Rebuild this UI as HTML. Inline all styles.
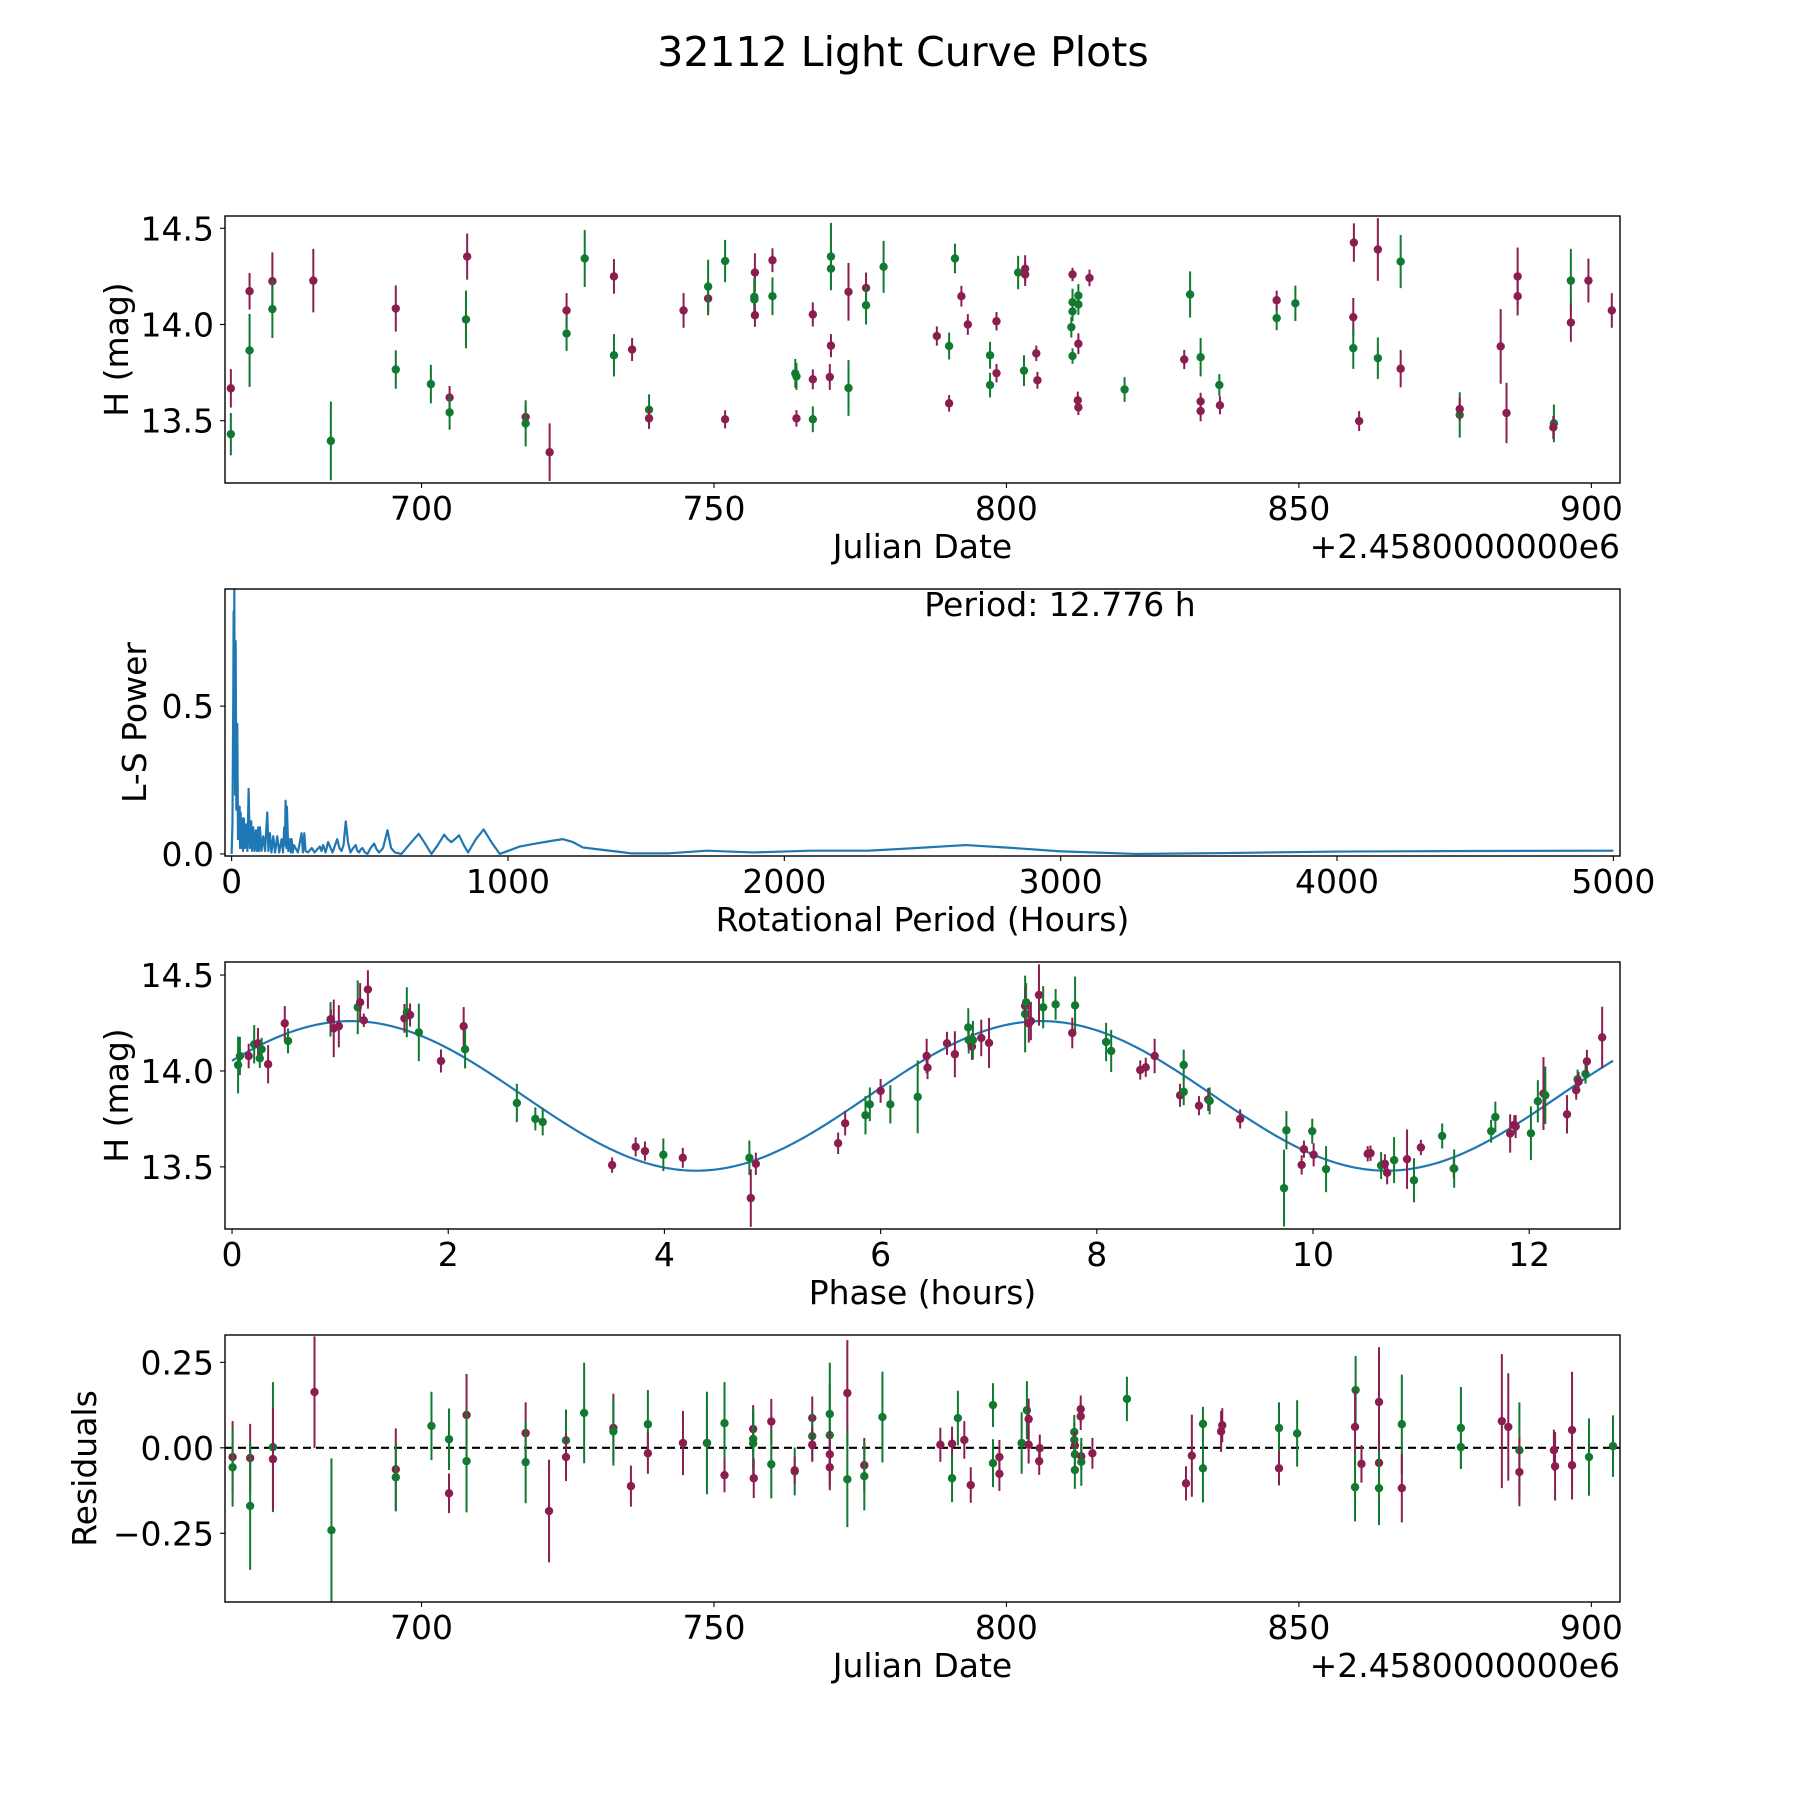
<!DOCTYPE html>
<html><head><meta charset="utf-8"><title>32112 Light Curve Plots</title>
<style>html,body{margin:0;padding:0;background:#fff;}svg{display:block;}text{font-family:"DejaVu Sans","Liberation Sans",sans-serif;fill:#000;}</style>
</head><body>
<svg id="fig" width="1800" height="1800" viewBox="0 0 1800 1800" xmlns="http://www.w3.org/2000/svg">
<rect x="0" y="0" width="1800" height="1800" fill="#fff"/>
<text x="903" y="66" font-size="41" text-anchor="middle">32112 Light Curve Plots</text>
</svg>
<script>
// ---------- Light curve data (panel 1) ----------
const lcJd = [667.4,667.4,670.6,670.6,674.5,674.5,681.5,684.5,695.6,695.6,701.6,704.8,704.8,707.8,707.6,717.8,717.8,721.9,724.8,724.8,727.9,732.9,732.9,736.0,738.9,738.9,744.8,749.0,749.0,751.9,751.9,757.0,756.9,756.9,757.0,760.0,760.0,763.9,764.1,764.1,766.9,766.9,766.9,770.0,770.0,770.0,769.8,773.0,773.0,776.0,776.0,779.0,788.1,790.2,790.2,791.2,792.3,793.4,797.2,797.2,798.3,798.3,802.0,803.2,803.2,803.0,805.1,805.3,811.3,811.1,811.3,811.3,811.3,812.3,812.3,812.3,812.2,812.3,814.2,820.2,830.4,831.4,833.2,833.2,833.2,836.4,836.5,846.2,846.2,849.4,859.4,859.3,859.3,860.3,863.5,863.5,867.4,867.4,877.5,877.5,884.5,885.5,887.4,887.4,893.6,893.5,896.5,896.5,899.5,903.5];
const lcMag = [13.668,13.43,14.173,13.865,14.225,14.08,14.228,13.395,14.083,13.766,13.69,13.62,13.543,14.353,14.026,13.519,13.486,13.336,14.073,13.953,14.343,14.25,13.84,13.87,13.557,13.512,14.073,14.135,14.197,14.33,13.507,14.27,14.144,14.13,14.048,14.334,14.147,13.746,13.73,13.512,14.052,13.715,13.507,14.353,14.29,13.89,13.727,14.17,13.67,14.19,14.1,14.30,13.94,13.888,13.59,14.343,14.147,14.0,13.84,13.685,14.017,13.747,14.27,14.29,14.26,13.76,13.85,13.71,14.26,13.986,13.836,14.068,14.116,14.15,14.104,13.9,13.606,13.569,14.242,13.662,13.818,14.156,13.83,13.6,13.55,13.685,13.58,14.033,14.126,14.11,14.426,14.038,13.877,13.498,14.39,13.825,14.327,13.77,13.53,13.56,13.886,13.54,14.25,14.147,13.486,13.465,14.228,14.01,14.228,14.073];
const lcErr = [.10,.11,.095,.19,.15,.15,.165,.205,.12,.10,.10,.06,.09,.12,.15,.06,.12,.15,.09,.09,.148,.09,.11,.06,.08,.055,.09,.087,.14,.11,.047,.1,.1,.1,.06,.062,.098,.075,.07,.043,.063,.052,.067,.175,.1,.06,.067,.15,.145,.08,.1,.135,.05,.07,.043,.077,.054,.054,.07,.064,.048,.048,.087,.07,.06,.08,.04,.044,.035,.054,.04,.05,.07,.06,.054,.054,.045,.04,.043,.064,.05,.12,.1,.045,.053,.057,.047,.063,.05,.092,.1,.1,.108,.052,.163,.108,.138,.097,.118,.06,.194,.157,.15,.1,.098,.06,.165,.1,.114,.09];
const lcBand = "PGPGPGPGPGGPGPGPGPPGGPGPGPPPGGPPGGPPGGGPPPGGGPPPGPGGPGPGPPGGPPGPPGPPPGGGGGGPPPPGPGGPPGPGPGPPGPPGGPGPPPPPGPGPPP".split("");
// ---------- Periodogram ----------
const lsPeriod = [0,3,6,7.2,8.5,9.6,11,12.5,14.5,17,20.5,23,26,28.9,30.5,32.5,35,38.6,41,44.6,48,53,57,61.5,66,71,74,78.3,83,88,92,96.4,99,102.4,108,114.5,121,129,133,138.6,144,150.6,157,165,172,180.8,186,190.4,193,195.2,198,200,205,211,214,217,221,225,240,253,258,263,267.5,276,290,300,319,325,331,340,349,365,382,390,397.6,405,413,421,430,440,449,455,461.5,467,473.5,482,491.6,503,515.7,525,533.8,548,564,577,590.5,614.5,646,677,700,723,746,769,782,795,808,823,840,855.5,884,912,940,970,1000,1042,1100,1163,1199,1235,1271,1331,1404,1444,1582,1720,1887,2095,2303,2480,2656,2830,2995,3272,3600,4000,4500,5000];
const lsPower = [0,0.1,0.54,0.82,0.3,0.9,0.5,0.2,0.72,0.15,0.44,0.05,0.1,0.16,0.02,0.14,0.02,0.12,0.01,0.12,0.02,0.1,0.01,0.22,0.02,0.11,0.01,0.09,0.01,0.08,0.01,0.09,0.01,0.09,0.01,0.06,0.01,0.14,0.01,0.07,0.005,0.06,0.005,0.06,0.005,0.05,0.005,0.09,0.03,0.18,0.02,0.16,0.01,0.05,0.005,0.05,0.005,0.03,0.005,0.07,0.005,0.07,0.01,0.005,0.02,0.005,0.025,0.01,0.03,0.005,0.04,0.005,0.05,0.02,0.01,0.03,0.11,0.04,0.005,0.02,0.03,0.01,0.005,0.015,0.02,0.005,0.0,0.02,0.035,0.015,0.005,0.02,0.08,0.02,0.005,0.0,0.035,0.068,0.035,0.0,0.03,0.065,0.05,0.04,0.05,0.063,0.03,0.005,0.05,0.083,0.04,0.0,0.01,0.025,0.035,0.045,0.05,0.04,0.022,0.015,0.007,0.002,0.002,0.011,0.005,0.011,0.011,0.02,0.03,0.02,0.009,0.0,0.003,0.008,0.01,0.011];
const bestPeriodLabel = "Period: 12.776 h";
// ---------- Phased data (panel 3) ----------
const phHours = [0.056,0.073,0.154,0.205,0.24,0.257,0.274,0.334,0.488,0.518,0.911,0.915,0.941,0.988,1.163,1.185,1.219,1.257,1.595,1.617,1.647,1.728,1.933,2.143,2.156,2.635,2.806,2.874,3.516,3.734,3.82,3.99,4.17,4.786,4.799,4.846,5.607,5.672,5.86,5.90,6.0,6.09,6.343,6.426,6.434,6.614,6.687,6.811,6.815,6.845,6.854,6.931,7.003,7.337,7.337,7.346,7.371,7.39,7.465,7.504,7.619,7.799,7.773,8.086,8.133,8.402,8.453,8.535,8.77,8.804,8.804,8.945,9.031,9.044,9.326,9.732,9.754,9.895,9.916,9.993,10.006,10.121,10.506,10.532,10.63,10.665,10.686,10.75,10.87,10.934,10.998,11.195,11.302,11.306,11.648,11.687,11.824,11.862,11.875,12.016,12.08,12.132,12.149,12.35,12.435,12.448,12.457,12.521,12.534,12.675];
const phMag = [14.031,14.078,14.078,14.139,14.144,14.066,14.113,14.035,14.248,14.156,14.269,14.269,14.222,14.233,14.332,14.358,14.264,14.425,14.274,14.306,14.292,14.201,14.052,14.233,14.113,13.833,13.75,13.734,13.509,13.604,13.582,13.563,13.547,13.547,13.337,13.516,13.623,13.727,13.769,13.826,13.896,13.826,13.865,14.078,14.017,14.144,14.087,14.227,14.161,14.127,14.161,14.172,14.146,14.297,14.339,14.358,14.248,14.26,14.396,14.332,14.347,14.342,14.198,14.151,14.104,14.005,14.019,14.078,13.873,14.031,13.891,13.819,13.851,13.844,13.75,13.389,13.691,13.51,13.592,13.686,13.563,13.488,13.568,13.571,13.507,13.516,13.469,13.535,13.54,13.43,13.601,13.661,13.491,13.491,13.686,13.76,13.674,13.719,13.71,13.675,13.842,13.882,13.873,13.774,13.9,13.957,13.944,13.984,14.05,14.175];
const phErr = [.148,.1,.064,.1,.08,.05,.06,.1,.09,.065,.09,.05,.15,.11,.14,.1,.035,.1,.075,.13,.06,.15,.06,.1,.1,.1,.06,.07,.04,.05,.05,.085,.052,.09,.15,.058,.056,.063,.1,.088,.062,.1,.19,.09,.06,.06,.12,.1,.07,.07,.1,.095,.13,.2,.1,.1,.1,.1,.16,.11,.08,.15,.08,.1,.11,.05,.05,.09,.06,.08,.07,.05,.06,.07,.05,.2,.1,.05,.045,.065,.06,.12,.04,.04,.07,.05,.06,.12,.155,.115,.04,.065,.05,.1,.06,.08,.1,.05,.06,.14,.11,.19,.15,.1,.05,.05,.05,.05,.06,.16];
const phBand = ("GGPGPGGPPGGPPPGPPPPGPGPPGGGGPPPGPGPPPPGGPGG" + "PPPPGGPGPPGPGPPPGGGPGGPPPPGG" + "PPGPGGPPGPGPPGPPGPGPGPGGGPPPGGPGPPGPGPP").split("");
const fitOffset = 13.87, fitAmplitude = 0.39, fitPeakPhase = 1.1, rotPeriod = 12.776;
// ---------- Residuals (panel 4) ----------
const resJd = [667.7,667.7,670.7,670.7,674.6,674.6,681.7,684.6,695.6,695.6,701.7,704.7,704.7,707.7,707.7,717.8,717.8,721.8,724.7,724.7,727.8,732.8,732.8,735.8,738.7,738.7,744.7,748.8,748.8,751.8,751.8,756.7,756.7,756.7,756.8,759.8,759.8,763.8,763.8,766.8,766.8,766.8,769.8,769.8,769.8,769.8,772.8,772.8,775.7,775.7,778.8,788.7,790.7,790.7,791.7,792.8,793.9,797.7,797.7,798.8,798.8,802.6,803.5,803.8,803.8,805.7,805.6,811.6,811.6,811.7,811.7,811.7,812.7,812.7,812.8,812.8,814.7,820.6,830.7,831.7,833.6,833.6,836.7,836.9,846.6,846.6,849.7,859.7,859.6,859.6,860.7,863.7,863.7,863.7,867.6,867.6,877.7,877.7,884.7,885.8,887.7,887.7,893.6,893.8,896.7,896.7,899.6,903.7];
const resVal = [-0.027,-0.057,-0.030,-0.17,0.002,-0.033,0.163,-0.241,-0.063,-0.086,0.064,0.025,-0.133,0.096,-0.039,0.043,-0.042,-0.185,0.022,-0.027,0.102,0.058,0.048,-0.112,0.069,-0.016,0.014,0.014,0.014,0.072,-0.08,0.055,0.026,0.013,-0.089,0.077,-0.048,-0.069,-0.066,0.087,0.034,0.009,0.099,0.037,-0.019,-0.057,0.16,-0.092,-0.051,-0.083,0.09,0.009,0.012,-0.089,0.087,0.023,-0.109,0.125,-0.045,-0.027,-0.076,0.014,0.11,0.084,0.009,-0.001,-0.039,0.046,0.023,0.007,-0.019,-0.065,0.113,0.092,-0.025,-0.041,-0.016,0.143,-0.104,-0.023,0.07,-0.06,0.048,0.066,0.058,-0.06,0.042,0.169,0.061,-0.115,-0.047,0.134,-0.044,-0.118,0.069,-0.118,0.058,0.002,0.078,0.061,-0.007,-0.071,-0.007,-0.054,0.052,-0.051,-0.027,0.005];
const resErr = [.105,.115,.1,.187,.19,.15,.163,.21,.12,.1,.1,.09,.058,.12,.15,.09,.12,.15,.09,.07,.147,.1,.1,.06,.1,.06,.094,.1,.15,.12,.05,.07,.09,.09,.058,.066,.1,.07,.04,.063,.07,.05,.15,.15,.07,.067,.155,.14,.08,.1,.133,.05,.05,.07,.08,.055,.052,.064,.07,.05,.05,.09,.085,.06,.055,.04,.04,.05,.05,.04,.05,.055,.04,.04,.04,.07,.045,.065,.05,.12,.05,.1,.06,.05,.075,.05,.097,.1,.11,.1,.055,.16,.1,.108,.145,.1,.12,.06,.196,.157,.14,.1,.06,.1,.17,.1,.113,.09];
const resBand = "PGPGGPPGPGGGPPGPGPGPGPGPGPPPGGPPGGPPGGPPGPGGPPPGPGGPPGGPPGGPPGGPPPPGGPGGPPPGPGPPGGPPGPGGPGPPPGGPGGPPGPPPPPGGPPP".split("");

// ---------- drawing ----------
const NS = "http://www.w3.org/2000/svg";
const svg = document.getElementById("fig");
const COL = {P:"#8b1d4f", G:"#117a30"};
const L = 225, R = 1620, FS = 33;
function mk(tag, attrs, parent){ const e=document.createElementNS(NS,tag); for(const k in attrs) e.setAttribute(k,attrs[k]); (parent||svg).appendChild(e); return e; }
function scale(d0,d1,r0,r1){ return v => r0 + (v-d0)/(d1-d0)*(r1-r0); }
function fmt(v,dec){ const s=Math.abs(v).toFixed(dec); return (v<-1e-9?"\u2212":"")+s; }

function makeAxes(name, top, bot, xd, yd, xt, xdec, yt, ydec, xlabel, ylabel, ylabX){
  const g = mk("g",{});
  
  
  const sx = scale(xd[0],xd[1],L,R), sy = scale(yd[0],yd[1],bot,top);
  const clipId = name+"-clip";
  const cp = mk("clipPath",{id:clipId},g); mk("rect",{x:L,y:top,width:R-L,height:bot-top},cp);
  const plot = mk("g",{"clip-path":"url(#"+clipId+")"},g);
  
  
  xt.forEach(v=>{ const x=sx(v);
    const t=mk("line",{x1:x,x2:x,y1:bot,y2:bot+5,stroke:"#000","stroke-width":1.1},g);
    
    
    const tx=mk("text",{x:x,y:bot+37,"font-size":FS,"text-anchor":"middle"},g); tx.textContent=fmt(v,xdec);
    
    
  });
  yt.forEach(v=>{ const y=sy(v);
    const t=mk("line",{x1:L-5,x2:L,y1:y,y2:y,stroke:"#000","stroke-width":1.1},g);
    
    
    const tx=mk("text",{x:L-11,y:y+12,"font-size":FS,"text-anchor":"end"},g); tx.textContent=fmt(v,ydec);
    
    
  });
  const fr=mk("rect",{x:L,y:top,width:R-L,height:bot-top,fill:"none",stroke:"#000","stroke-width":1.4},g);
  
  
  const xl=mk("text",{x:(L+R)/2,y:bot+75,"font-size":FS,"text-anchor":"middle"},g); xl.textContent=xlabel;
  
  
  const cy=(top+bot)/2;
  const yl=mk("text",{x:ylabX,y:cy,"font-size":FS,"text-anchor":"middle",transform:"rotate(-90 "+ylabX+" "+cy+")"},g); yl.textContent=ylabel;
  
  
  return {g,plot,sx,sy,top,bot};
}
function offsetText(ax){
  const t=mk("text",{x:R,y:ax.bot+75,"font-size":FS,"text-anchor":"end"},ax.g); t.textContent="+2.4580000000e6";
  
  
}
function errPoints(ax, xs, ys, es, bands, label){
  for(let i=0;i<xs.length;i++){
    const x=ax.sx(xs[i]), c=COL[bands[i]]||COL.P;
    const ln=mk("line",{x1:x,x2:x,y1:ax.sy(ys[i]-es[i]),y2:ax.sy(ys[i]+es[i]),stroke:c,"stroke-width":2},ax.plot);
    
    
    const ci=mk("ellipse",{cx:x,cy:ax.sy(ys[i]),rx:4.2,ry:4.2,fill:c},ax.plot);
    
    
  }
}

// Panel 1
const a1 = makeAxes("light-curve-panel",216,483,[666.4,904.9],[13.176,14.564],[700,750,800,850,900],0,[13.5,14.0,14.5],1,"Julian Date","H (mag)",128);
offsetText(a1);
errPoints(a1, lcJd, lcMag, lcErr, lcBand, "light-curve");

// Panel 2
const a2 = makeAxes("periodogram-panel",589,856,[-24,5024],[-0.007,0.896],[0,1000,2000,3000,4000,5000],0,[0.0,0.5],1,"Rotational Period (Hours)","L-S Power",146);
let d=""; lsPeriod.forEach((p,i)=>{ d+=(i?"L":"M")+a2.sx(p).toFixed(2)+" "+a2.sy(lsPower[i]).toFixed(2); });
const pl=mk("path",{d:d,fill:"none",stroke:"#1f77b4","stroke-width":2.2,"stroke-linejoin":"round"},a2.plot);


const pt=mk("text",{x:1060,y:616,"font-size":FS,"text-anchor":"middle"},a2.g); pt.textContent=bestPeriodLabel;



// Panel 3
const a3 = makeAxes("phase-panel",962,1229,[-0.065,12.84],[13.176,14.568],[0,2,4,6,8,10,12],0,[13.5,14.0,14.5],1,"Phase (hours)","H (mag)",128);
let fd=""; const N=300;
for(let i=0;i<=N;i++){ const p=rotPeriod*i/N; const m=fitOffset+fitAmplitude*Math.cos(2*Math.PI*(p-fitPeakPhase)/(rotPeriod/2));
  fd+=(i?"L":"M")+a3.sx(p).toFixed(2)+" "+a3.sy(m).toFixed(2); }
const fl=mk("path",{d:fd,fill:"none",stroke:"#1f77b4","stroke-width":2.2},a3.plot);


errPoints(a3, phHours, phMag, phErr, phBand, "phase");

// Panel 4
const a4 = makeAxes("residuals-panel",1335,1602,[666.4,904.9],[-0.451,0.330],[700,750,800,850,900],0,[-0.25,0.0,0.25],2,"Julian Date","Residuals",96);
offsetText(a4);
const zl=mk("line",{x1:L,x2:R,y1:a4.sy(0),y2:a4.sy(0),stroke:"#000","stroke-width":2.2,"stroke-dasharray":"8 5"},a4.plot);


errPoints(a4, resJd, resVal, resErr, resBand, "residual");
</script>
</body></html>
